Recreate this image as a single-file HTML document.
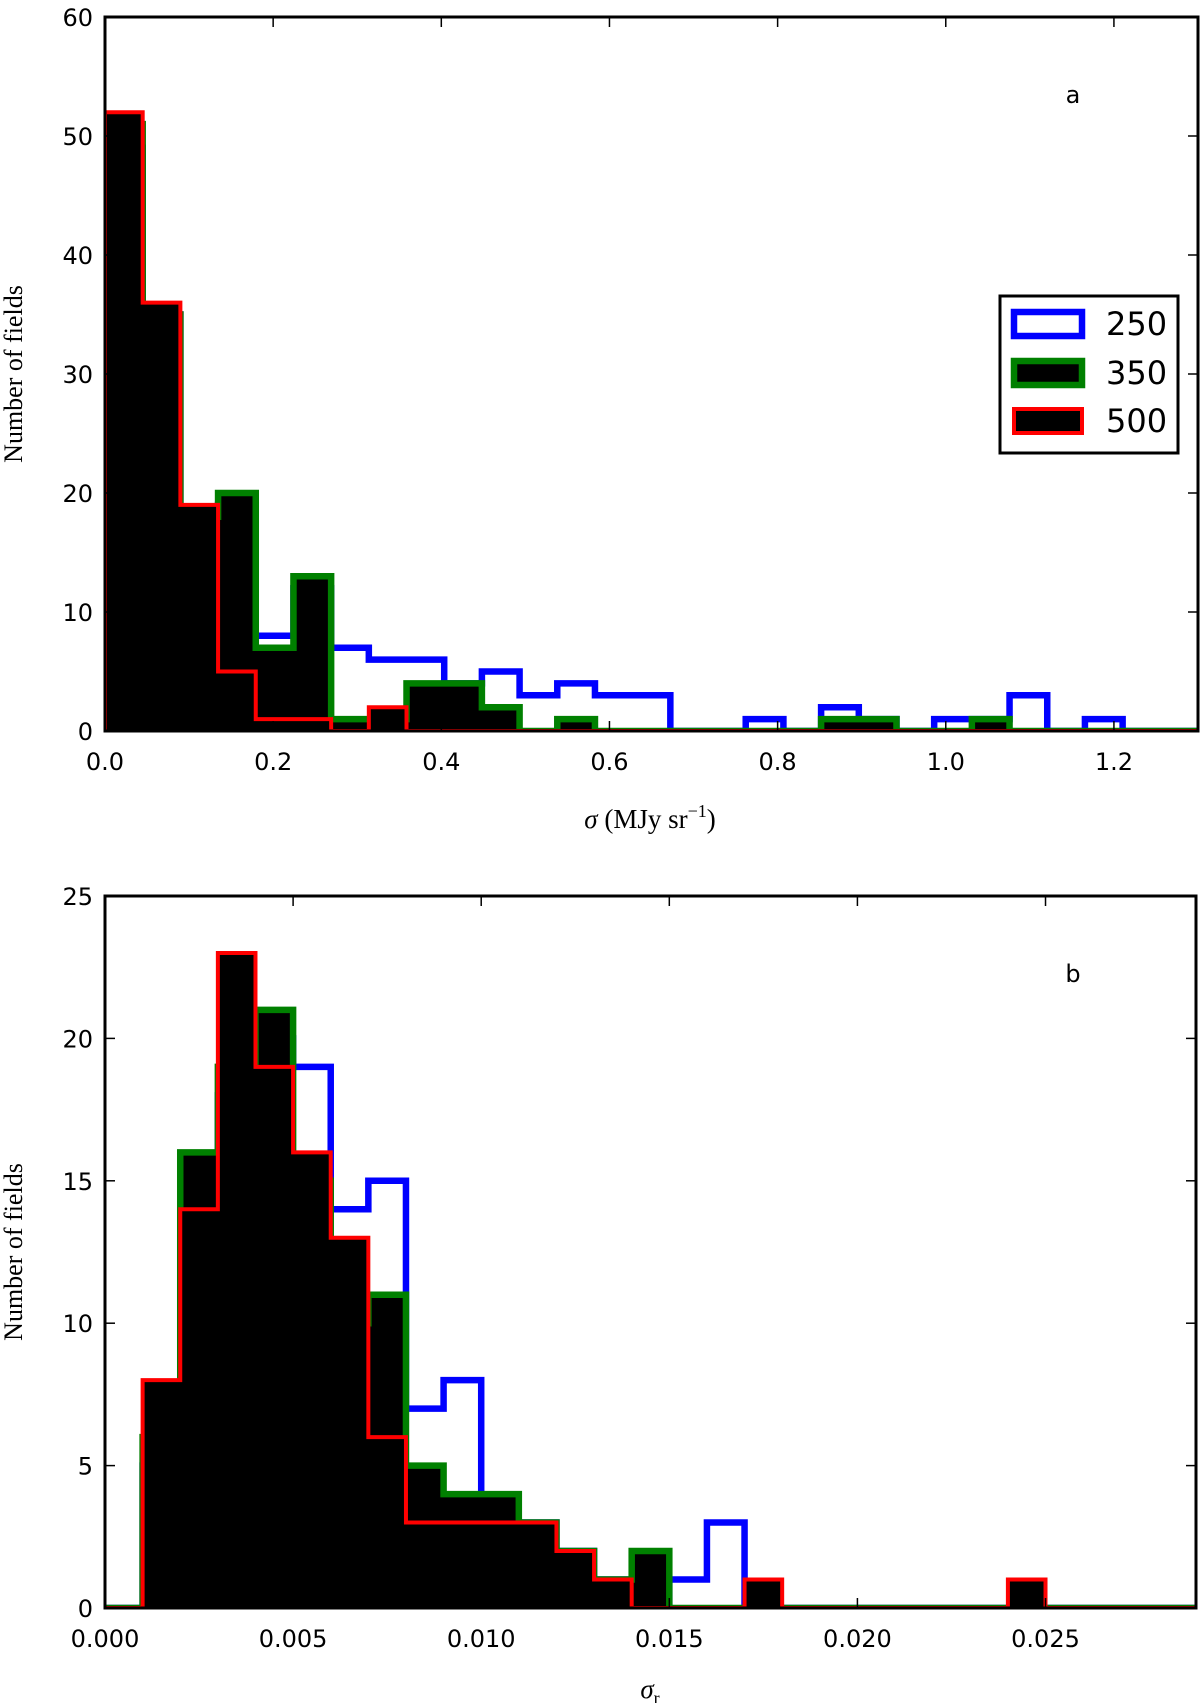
<!DOCTYPE html>
<html><head><meta charset="utf-8">
<style>
html,body{margin:0;padding:0;background:#fff;}
svg{display:block;}
text{font-family:"DejaVu Sans","Liberation Sans",sans-serif;}
.serif{font-family:"Liberation Serif","DejaVu Serif",serif;}
</style></head>
<body>
<svg id="chart" width="1200" height="1703" viewBox="0 0 1200 1703" xmlns="http://www.w3.org/2000/svg">
</svg>
<script>
// Panel a data (bin width 1.3/29)
const aBinCount = 29;
const aBlue  = [49,35,17,19,8,12,7,6,6,4,5,3,4,3,3,0,0,1,0,2,1,0,1,1,3,0,1,0,0];
const aGreen = [51,35,18,20,7,13,1,1,4,4,2,0,1,0,0,0,0,0,0,1,1,0,0,1,0,0,0,0,0];
const aRed   = [52,36,19,5,1,1,0,2,0,0,0,0,0,0,0,0,0,0,0,0,0,0,0,0,0,0,0,0,0];
const aXTicks = [0.0,0.2,0.4,0.6,0.8,1.0,1.2];
const aXTickLabels = ["0.0","0.2","0.4","0.6","0.8","1.0","1.2"];
const aYTicks = [0,10,20,30,40,50,60];
// Panel b data (bin width 0.001)
const bBinCount = 29;
const bBlue  = [0,5,13,18,20,19,14,15,7,8,3,3,2,1,0,1,3,0,0,0,0,0,0,0,0,0,0,0,0];
const bGreen = [0,6,16,19,21,15,10,11,5,4,4,3,2,1,2,0,0,0,0,0,0,0,0,0,0,0,0,0,0];
const bRed   = [0,8,14,23,19,16,13,6,3,3,3,3,2,1,0,0,0,1,0,0,0,0,0,0,1,0,0,0,0];
const bXTicks = [0,0.005,0.010,0.015,0.020,0.025];
const bXTickLabels = ["0.000","0.005","0.010","0.015","0.020","0.025"];
const bYTicks = [0,5,10,15,20,25];

const NS="http://www.w3.org/2000/svg";
const svg=document.getElementById('chart');
function mk(tag,attrs,parent){const e=document.createElementNS(NS,tag);for(const k in attrs)e.setAttribute(k,attrs[k]);(parent||svg).appendChild(e);return e;}

function panel(cfg){
  const g=mk('g',{});
  
  
  const L=105,R=cfg.right,T=cfg.top,B=cfg.bottom;
  const xs=v=>L+(v-0)/(cfg.xmax)*(R-L);
  const ys=v=>B-(v/cfg.ymax)*(B-T);
  const bw=cfg.binW;
  const cp=mk('clipPath',{id:cfg.name+'-clip'},g);
  mk('rect',{x:L,y:T-10,width:R-L,height:B-T+10},cp);
  const hg=mk('g',{'clip-path':'url(#'+cfg.name+'-clip)'},g);
  function stepC(vals,stroke,fill,sw,nm){
    let d='M'+xs(0)+','+ys(0);
    for(let i=0;i<vals.length;i++){d+=' L'+xs(i*bw)+','+ys(vals[i])+' L'+xs((i+1)*bw)+','+ys(vals[i]);}
    d+=' L'+xs(vals.length*bw)+','+ys(0);
    const p=mk('path',{d:d,fill:fill,stroke:stroke,'stroke-width':sw},hg);
    
    
  }
  stepC(cfg.blue,'#0000ff','#ffffff',6.5,'series-250');
  stepC(cfg.green,'#008000','#000000',6.5,'series-350');
  stepC(cfg.red,'#ff0000','#000000',4,'series-500');
  const fr=mk('rect',{x:L,y:T,width:R-L,height:B-T,fill:'none',stroke:'#000','stroke-width':3},g);
  
  
  cfg.xticks.forEach((v,i)=>{
    const x=xs(v);
    mk('line',{x1:x,y1:B,x2:x,y2:B-10,stroke:'#000','stroke-width':1.5},g);
    mk('line',{x1:x,y1:T,x2:x,y2:T+10,stroke:'#000','stroke-width':1.5},g);
    const t=mk('text',{x:x,y:B+39,'font-size':24,'text-anchor':'middle'},g);
    t.textContent=cfg.xlabels[i];
    
    
  });
  cfg.yticks.forEach(v=>{
    const y=ys(v);
    mk('line',{x1:L,y1:y,x2:L+10,y2:y,stroke:'#000','stroke-width':1.5},g);
    mk('line',{x1:R,y1:y,x2:R-10,y2:y,stroke:'#000','stroke-width':1.5},g);
    const t=mk('text',{x:L-12,y:y+9,'font-size':24,'text-anchor':'end'},g);
    t.textContent=String(v);
    
    
  });
  const pl=mk('text',{x:1073,y:cfg.top+86,'font-size':24,'text-anchor':'middle'},g);
  pl.textContent=cfg.letter;
  
  
  const yt=mk('text',{x:0,y:0,'font-size':26,'text-anchor':'middle',class:'serif',transform:'translate(22,'+((T+B)/2)+') rotate(-90)'},g);
  yt.textContent='Number of fields';
  
  
  return g;
}

panel({name:'panel-a',right:1198,top:17,bottom:731,xmax:1.3,ymax:60,binW:1.3/aBinCount,
  blue:aBlue,green:aGreen,red:aRed,xticks:aXTicks,xlabels:aXTickLabels,yticks:aYTicks,letter:'a'});
panel({name:'panel-b',right:1196,top:896,bottom:1608,xmax:0.029,ymax:25,binW:0.029/bBinCount,
  blue:bBlue,green:bGreen,red:bRed,xticks:bXTicks,xlabels:bXTickLabels,yticks:bYTicks,letter:'b'});

const xa=mk('text',{x:650,y:828,'font-size':27,'text-anchor':'middle',class:'serif'});
xa.innerHTML='<tspan font-style="italic">σ</tspan> (MJy sr<tspan dy="-11" font-size="18">−1</tspan><tspan dy="11">)</tspan>';


const xb=mk('text',{x:650,y:1698,'font-size':27,'text-anchor':'middle',class:'serif'});
xb.innerHTML='<tspan font-style="italic">σ</tspan><tspan dy="6" font-size="18">r</tspan>';



const lg=mk('g',{});


mk('rect',{x:1000,y:296,width:178,height:157,fill:'#fff',stroke:'#000','stroke-width':3},lg);
const leg=[['250','#0000ff','#fff',6.5,324],['350','#008000','#000',6.5,373],['500','#ff0000','#000',4,421]];
leg.forEach(e=>{
  const it=mk('g',{},lg);
  
  
  mk('rect',{x:1014,y:e[4]-12,width:68,height:24,fill:e[2],stroke:e[1],'stroke-width':e[3]},it);
  const t=mk('text',{x:1106,y:e[4]+11,'font-size':32},it);
  t.textContent=e[0];
});
</script>
</body></html>
